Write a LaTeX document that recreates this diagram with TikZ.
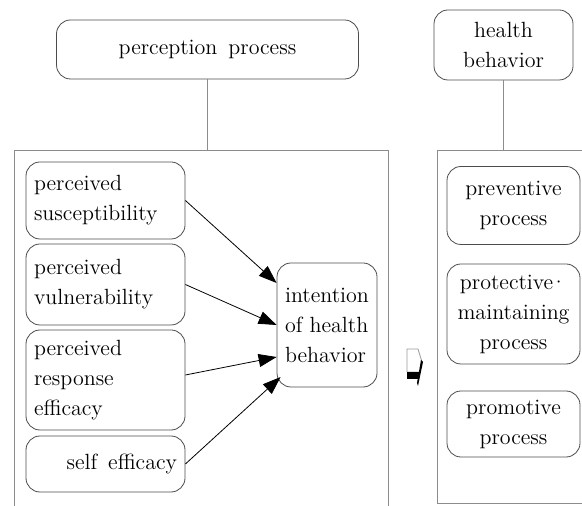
\documentclass[tikz,border=0pt]{standalone}
\usepackage{fontspec}
\usetikzlibrary{arrows.meta}

\begin{document}
\begin{tikzpicture}[x=0.5pt,y=-0.5pt,
  box/.style={draw=black!70, rounded corners=7pt, inner sep=4pt,
              font=\fontsize{11}{15}\selectfont},
  leftbox/.style={box, minimum width=79.5pt, text width=71.5pt, align=left},
  rightbox/.style={box, minimum width=66.5pt, align=center},
  frame/.style={draw=black!45, line width=0.5pt},
  link/.style={draw=black!45, line width=0.5pt},
  arr/.style={-{Triangle[length=9pt,width=6.5pt]}, line width=0.4pt}]
\useasboundingbox (0,0) rectangle (582,506);

\path   (207.5, 49.5) coordinate (c1) {}
        (503.5, 45.0) coordinate (c2) {}
        (105.5,200.5) coordinate (c3) {}
        (105.5,284.5) coordinate (c4) {}
        (105.5,380.0) coordinate (c5) {}
        (105.5,464.0) coordinate (c6) {}
        (327.0,325.0) coordinate (c7) {}
        (513.5,205.5) coordinate (c8) {}
        (513.5,314.0) coordinate (c9) {}
        (513.5,424.0) coordinate (c10) {};

% frames
\draw[frame] (14,520) -- (14,151) -- (388,151) -- (388,520);
\draw[frame] (437,151) rectangle (600,503);

% top boxes
\node[box, minimum width=151pt, minimum height=29.5pt] (percep) at (c1) {perception\enspace process};
\node[box, minimum width=69.5pt, minimum height=35pt, align=center] (health) at (c2) {health\\behavior};
\path[link] (percep) -- (percep |- 0,151);
\path[link] (health) -- (health |- 0,151);

% perception factors
\node[leftbox, minimum height=38.5pt] (suscep) at (c3) {perceived\\susceptibility};
\node[leftbox, minimum height=40.5pt] (vulner) at (c4) {perceived\\vulnerability};
\node[leftbox, minimum height=50pt] (respon) at (c5) {perceived\\response\\efficacy};
\node[leftbox, minimum height=28pt, align=right] (selfef) at (c6) {self\enspace efficacy\hspace*{2pt}};
\node[box, minimum width=50pt, minimum height=62pt, align=left] (intent) at (c7) {intention\\of health\\behavior};

\draw[arr] (suscep.east) -- ([yshift=21pt]intent.west);
\draw[arr] (vulner.east) -- (intent.west);
\draw[arr] ([yshift=2.5pt]respon.east) -- ([yshift=-16pt]intent.west);
\draw[arr] (selfef.east) -- ([xshift=2pt,yshift=-26pt]intent.west);

% health behavior processes
\node[rightbox, minimum height=39pt] (prevent) at (c8) {preventive\\process};
\node[rightbox, minimum height=50pt] (protect) at (c9) {protective\kern-1.5pt·\\maintaining\\process};
\node[rightbox, minimum height=33pt] (promote) at (c10) {promotive\\process};

% small arrow mark
\draw[black!40, line width=0.4pt] (407,372) -- (407,349) -- (418,349) -- (422,362);
\fill[black] (407,372) -- (420,372) -- (418,379) -- (407,379) -- cycle;
\fill[black] (421,360) -- (423,362) -- (418,386) -- (417,383) -- cycle;
\end{tikzpicture}
\end{document}
